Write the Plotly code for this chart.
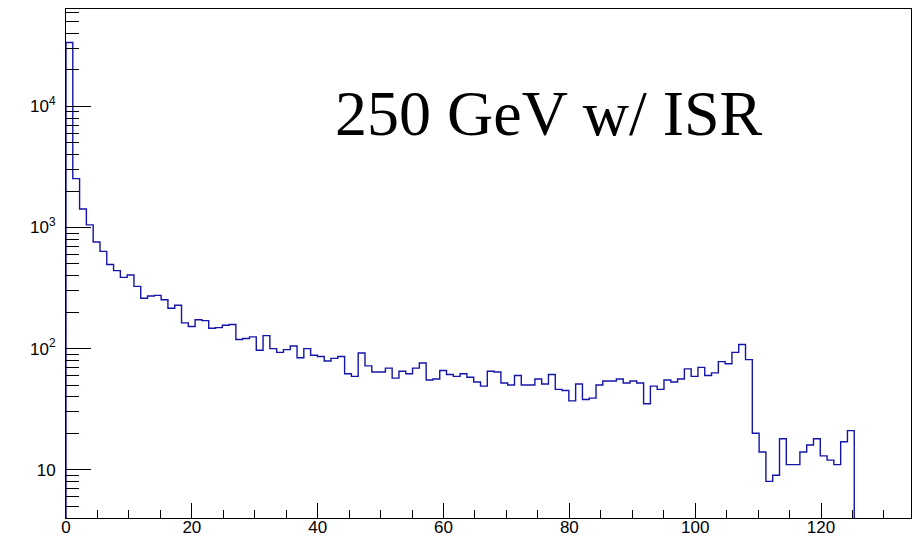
import numpy as np
import plotly.graph_objects as go

# Histogram contents (one value per bin)
counts = [
    33700, 2530, 1420, 1050, 759, 635, 495, 440, 387, 405,
    326, 260, 272, 275, 253, 215, 228, 163, 152, 173,
    170, 147, 149, 156, 158, 119, 121, 125, 97, 128,
    100, 93, 98, 105, 84, 100, 88, 86, 79, 83,
    86, 62, 59, 92, 72, 64, 64, 69, 57, 65,
    62, 69, 76, 55, 56, 66, 61, 59, 62, 58,
    53, 49, 65, 64, 52, 50, 60, 50, 50, 56,
    51, 61, 46, 45, 37, 51, 38, 39, 50, 54,
    54, 56, 52, 54, 52, 35, 49, 46, 55, 53,
    56, 68, 59, 70, 60, 63, 78, 75, 93, 108,
    81, 20, 14, 8, 9, 18, 11, 11, 14, 16,
    18, 13, 12, 11, 17, 21,
]
bin_low = 0.0
bin_width = 1.08
x_range = [0, 134.3]
y_log_range = [0.601, 4.804]

y_major_vals = [10, 100, 1000, 10000]
y_major_text = ["10", "10<sup>2</sup>", "10<sup>3</sup>", "10<sup>4</sup>"]
y_minor_vals = [m * 10 ** d for d in range(0, 5) for m in range(2, 10)]

x_major_vals = [0, 20, 40, 60, 80, 100, 120]
title_text = "250 GeV w/ ISR"

# Build ROOT-like step outline
edges = bin_low + bin_width * np.arange(len(counts) + 1)
floor_val = 1e-2
xs = [edges[0]] + list(edges)
ys = [floor_val] + list(counts) + [floor_val]

fig = go.Figure()
fig.add_trace(go.Scatter(
    x=xs, y=ys, mode="lines",
    line=dict(shape="hv", color="#1414a8", width=1.4),
    hoverinfo="skip", showlegend=False,
))

axis_font = dict(family="Liberation Sans, Arial, sans-serif", size=17, color="black")

fig.update_layout(
    template="none",
    width=913, height=542,
    margin=dict(l=66, r=2, t=9, b=24, autoexpand=False),
    paper_bgcolor="white", plot_bgcolor="white",
    showlegend=False,
    font=axis_font,
    xaxis=dict(
        range=x_range, showgrid=False, zeroline=False, automargin=False,
        showline=True, linecolor="black", linewidth=1, mirror=True,
        ticks="inside", ticklen=15, tickwidth=1, tickcolor="black",
        tickmode="array", tickvals=x_major_vals,
        ticktext=[str(v) for v in x_major_vals],
        tickfont=axis_font, ticklabelstandoff=-6,
        minor=dict(dtick=5, tick0=0, ticks="inside", ticklen=8,
                   tickwidth=1, tickcolor="black", showgrid=False),
    ),
    yaxis=dict(
        type="log", range=y_log_range, showgrid=False, zeroline=False,
        automargin=False,
        showline=True, linecolor="black", linewidth=1, mirror=True,
        ticks="inside", ticklen=25, tickwidth=1, tickcolor="black",
        tickmode="array", tickvals=y_major_vals, ticktext=y_major_text,
        tickfont=axis_font, ticklabelstandoff=6,
        minor=dict(tickmode="array", tickvals=y_minor_vals, ticks="inside",
                   ticklen=13, tickwidth=1, tickcolor="black", showgrid=False),
    ),
    annotations=[dict(
        text=title_text, xref="paper", yref="paper",
        x=0.316, y=0.794, xanchor="left", yanchor="middle",
        showarrow=False,
        font=dict(family="Liberation Serif, Times New Roman, serif", size=64, color="black"),
    )],
)

fig.write_html(
    "out.html",
    config={"displayModeBar": False},
    post_script="document.body.style.margin='0';document.body.style.overflow='hidden';",
)
